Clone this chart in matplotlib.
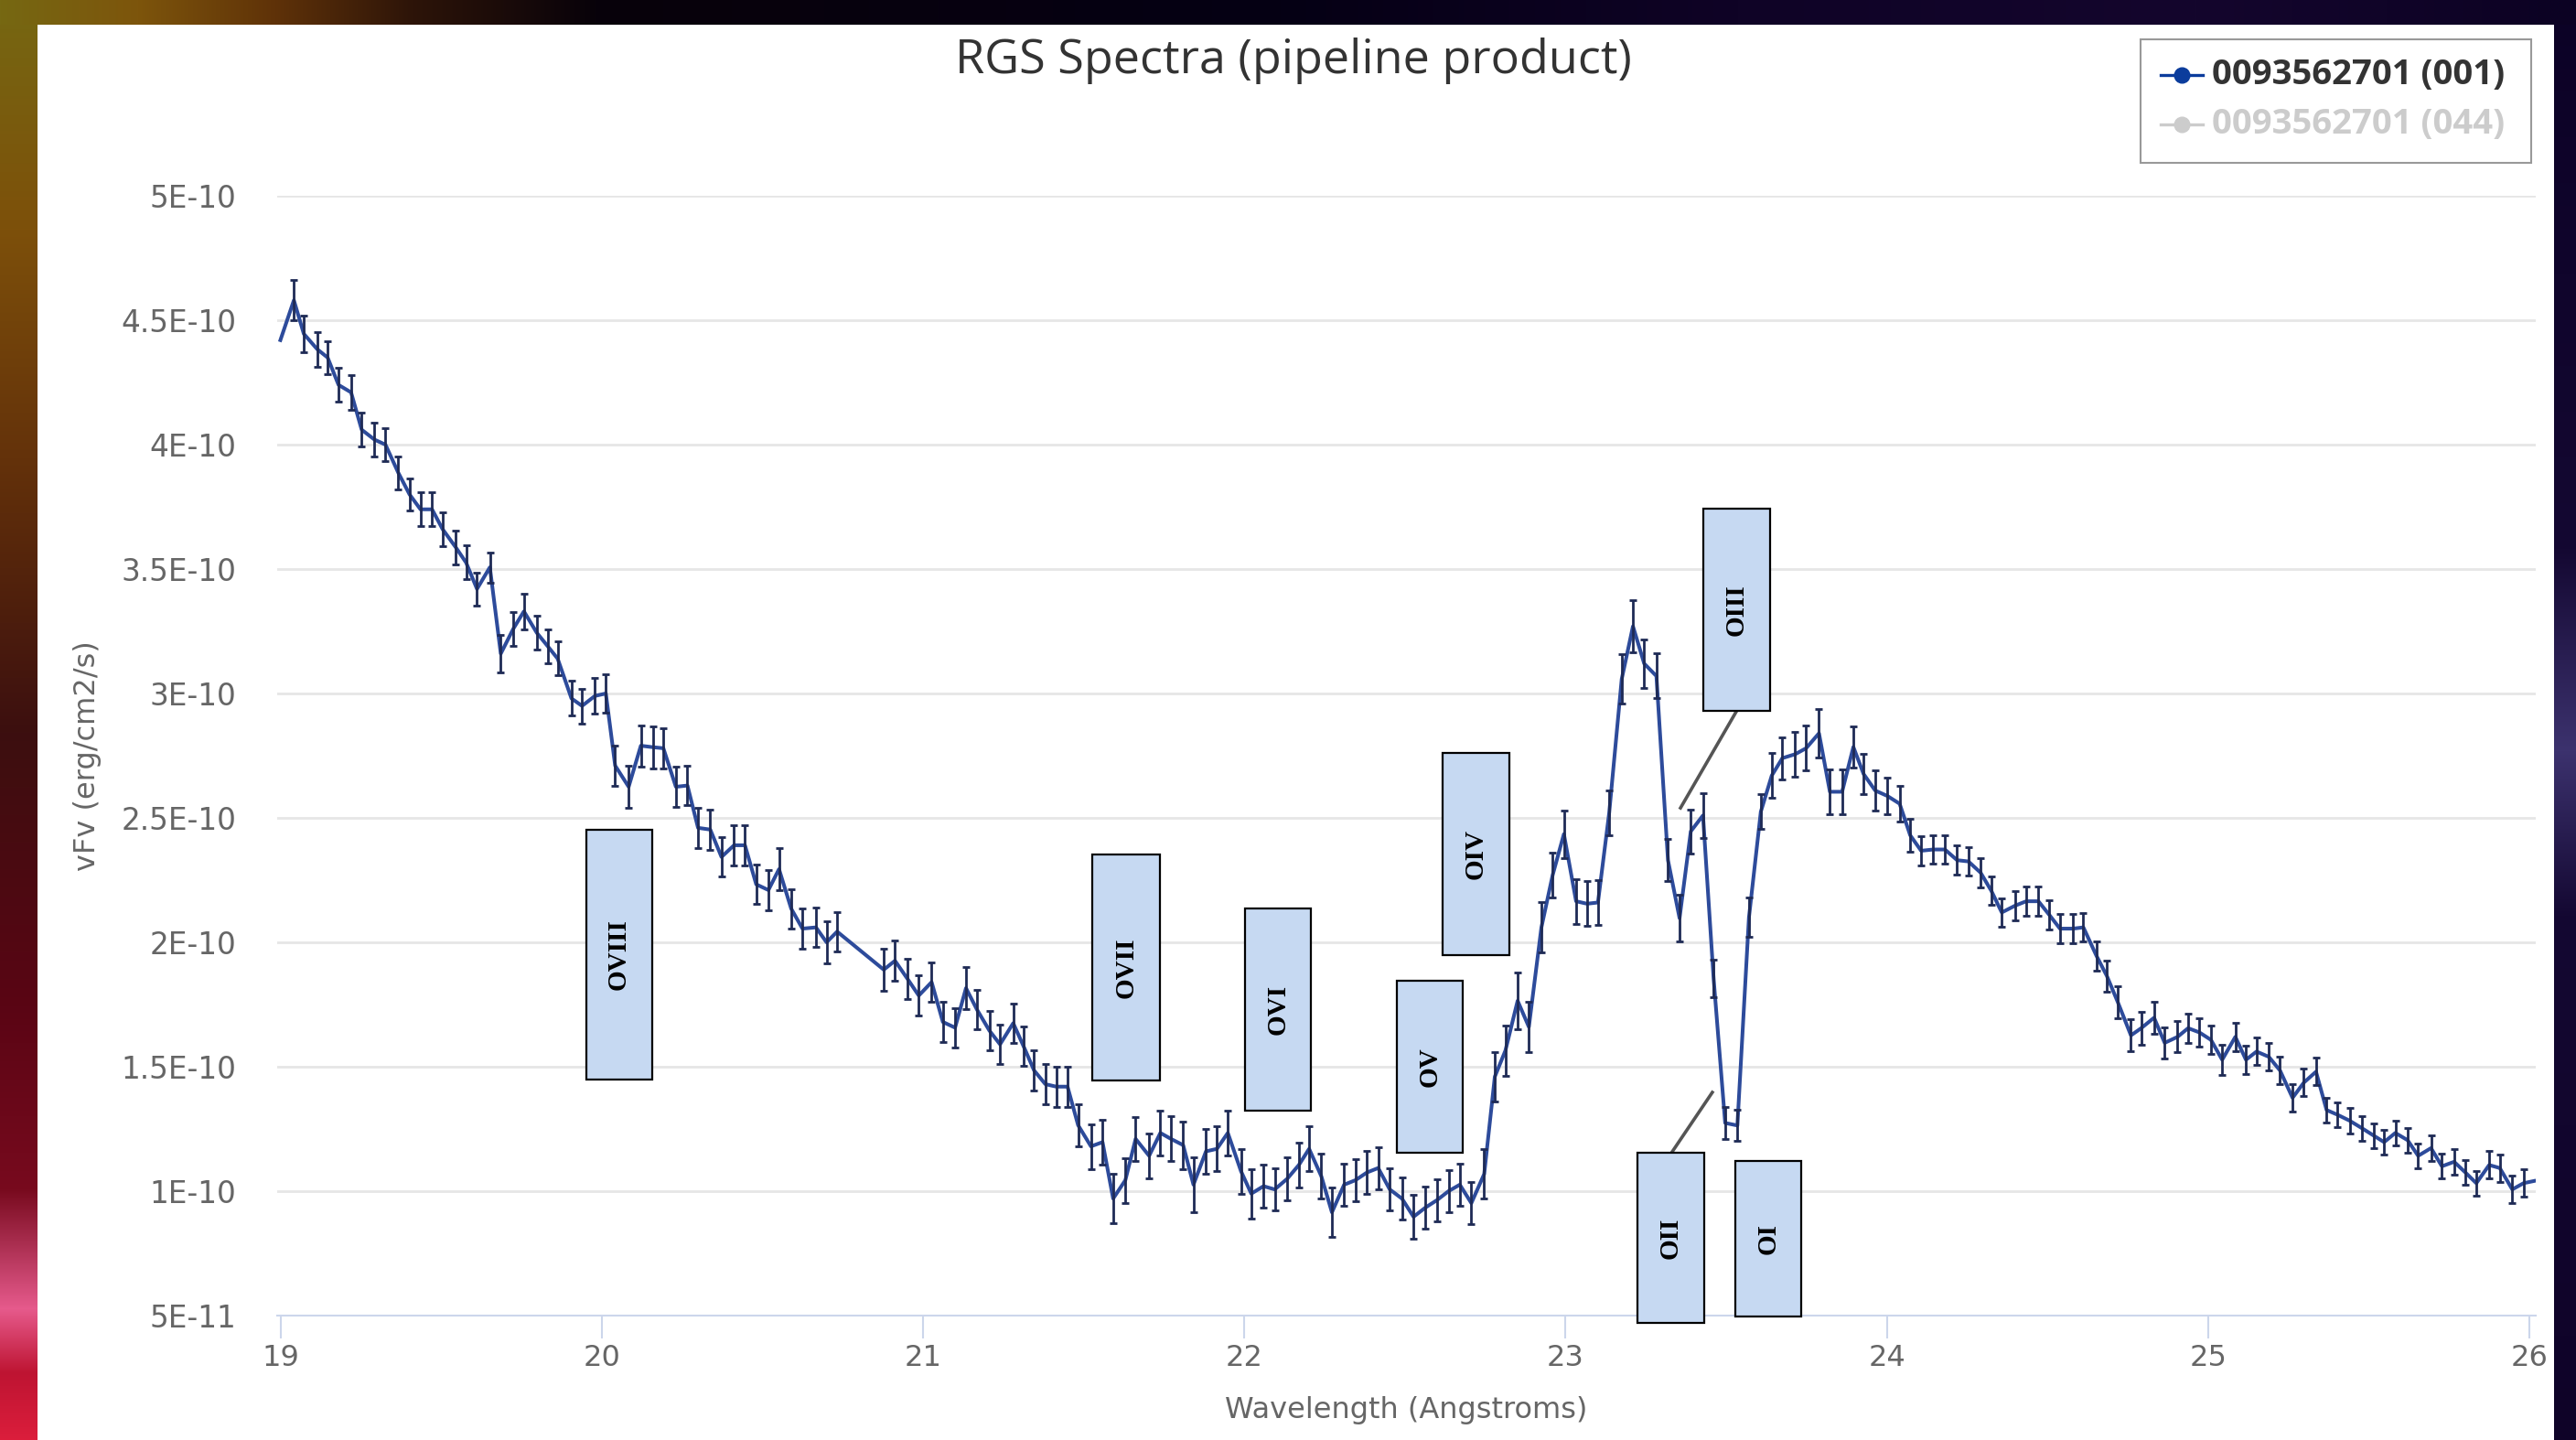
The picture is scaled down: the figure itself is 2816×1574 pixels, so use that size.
import numpy as np
import matplotlib
matplotlib.use("Agg")
import matplotlib.pyplot as plt
from matplotlib.patches import Rectangle

# RGS spectrum of obsid 0093562701 (001): wavelength (Angstrom), vFv and 1-sigma errors (units of 1e-10 erg/cm2/s)
wavelength = [
    19.000, 19.042, 19.073, 19.115, 19.147, 19.181, 19.220, 19.253, 19.293, 19.327,
    19.367, 19.402, 19.436, 19.472, 19.505, 19.546, 19.578, 19.612, 19.652, 19.686,
    19.725, 19.758, 19.798, 19.832, 19.863, 19.906, 19.939, 19.979, 20.013, 20.042,
    20.084, 20.122, 20.160, 20.192, 20.231, 20.267, 20.300, 20.338, 20.373, 20.412,
    20.446, 20.481, 20.519, 20.552, 20.590, 20.625, 20.667, 20.700, 20.733, 20.878,
    20.913, 20.952, 20.987, 21.027, 21.062, 21.100, 21.134, 21.168, 21.207, 21.240,
    21.281, 21.313, 21.346, 21.381, 21.415, 21.450, 21.483, 21.523, 21.559, 21.592,
    21.630, 21.662, 21.704, 21.739, 21.772, 21.810, 21.842, 21.881, 21.915, 21.949,
    21.990, 22.022, 22.060, 22.095, 22.134, 22.170, 22.202, 22.240, 22.273, 22.311,
    22.346, 22.382, 22.417, 22.453, 22.491, 22.527, 22.564, 22.600, 22.636, 22.671,
    22.707, 22.747, 22.780, 22.813, 22.851, 22.886, 22.925, 22.960, 22.995, 23.033,
    23.067, 23.101, 23.136, 23.175, 23.210, 23.245, 23.283, 23.319, 23.355, 23.390,
    23.428, 23.461, 23.497, 23.535, 23.571, 23.608, 23.642, 23.675, 23.715, 23.749,
    23.789, 23.823, 23.861, 23.896, 23.928, 23.964, 24.002, 24.040, 24.073, 24.107,
    24.145, 24.181, 24.219, 24.254, 24.292, 24.325, 24.358, 24.399, 24.434, 24.472,
    24.506, 24.539, 24.580, 24.612, 24.653, 24.685, 24.719, 24.760, 24.792, 24.832,
    24.865, 24.905, 24.938, 24.973, 25.009, 25.044, 25.085, 25.118, 25.151, 25.189,
    25.224, 25.263, 25.298, 25.336, 25.369, 25.403, 25.441, 25.479, 25.517, 25.548,
    25.583, 25.621, 25.654, 25.694, 25.728, 25.766, 25.801, 25.835, 25.875, 25.908,
    25.947, 25.982, 26.015,
]
flux = [
    4.420, 4.580, 4.445, 4.383, 4.350, 4.240, 4.210, 4.060, 4.020, 4.000,
    3.887, 3.800, 3.740, 3.740, 3.660, 3.587, 3.526, 3.420, 3.507, 3.160,
    3.260, 3.330, 3.244, 3.190, 3.140, 2.980, 2.950, 2.990, 3.000, 2.710,
    2.625, 2.790, 2.784, 2.780, 2.625, 2.630, 2.460, 2.453, 2.343, 2.390,
    2.390, 2.233, 2.210, 2.294, 2.135, 2.055, 2.060, 2.000, 2.043, 1.890,
    1.926, 1.853, 1.786, 1.840, 1.680, 1.657, 1.816, 1.730, 1.645, 1.590,
    1.675, 1.583, 1.485, 1.430, 1.420, 1.420, 1.265, 1.180, 1.197, 0.970,
    1.044, 1.210, 1.142, 1.234, 1.210, 1.185, 1.026, 1.160, 1.170, 1.234,
    1.080, 0.990, 1.020, 1.007, 1.050, 1.105, 1.170, 1.060, 0.915, 1.026,
    1.044, 1.075, 1.093, 1.007, 0.970, 0.897, 0.934, 0.964, 1.000, 1.026,
    0.952, 1.069, 1.460, 1.565, 1.765, 1.660, 2.060, 2.270, 2.435, 2.165,
    2.155, 2.160, 2.520, 3.058, 3.270, 3.120, 3.070, 2.330, 2.097, 2.446,
    2.510, 1.855, 1.274, 1.264, 2.100, 2.525, 2.670, 2.740, 2.756, 2.780,
    2.840, 2.605, 2.605, 2.785, 2.676, 2.610, 2.588, 2.557, 2.430, 2.368,
    2.373, 2.373, 2.330, 2.325, 2.280, 2.208, 2.120, 2.147, 2.165, 2.165,
    2.110, 2.055, 2.055, 2.060, 1.945, 1.865, 1.760, 1.626, 1.655, 1.697,
    1.596, 1.620, 1.655, 1.638, 1.608, 1.528, 1.620, 1.528, 1.561, 1.540,
    1.485, 1.375, 1.436, 1.480, 1.326, 1.307, 1.283, 1.253, 1.222, 1.197,
    1.234, 1.205, 1.142, 1.173, 1.100, 1.118, 1.075, 1.032, 1.105, 1.093,
    1.007, 1.032, 1.041,
]
flux_err = [
    0.000, 0.080, 0.075, 0.070, 0.067, 0.067, 0.069, 0.067, 0.067, 0.067,
    0.067, 0.065, 0.068, 0.068, 0.068, 0.068, 0.068, 0.067, 0.061, 0.074,
    0.068, 0.072, 0.068, 0.068, 0.068, 0.070, 0.070, 0.072, 0.078, 0.080,
    0.083, 0.083, 0.084, 0.080, 0.080, 0.080, 0.080, 0.080, 0.080, 0.080,
    0.080, 0.080, 0.080, 0.085, 0.080, 0.080, 0.080, 0.085, 0.080, 0.086,
    0.080, 0.080, 0.080, 0.080, 0.080, 0.080, 0.085, 0.080, 0.080, 0.080,
    0.080, 0.080, 0.080, 0.080, 0.080, 0.080, 0.085, 0.090, 0.090, 0.100,
    0.090, 0.089, 0.090, 0.090, 0.090, 0.095, 0.110, 0.090, 0.090, 0.090,
    0.090, 0.100, 0.085, 0.085, 0.085, 0.090, 0.090, 0.090, 0.100, 0.085,
    0.085, 0.085, 0.085, 0.085, 0.085, 0.090, 0.085, 0.085, 0.085, 0.085,
    0.085, 0.100, 0.100, 0.100, 0.113, 0.100, 0.100, 0.090, 0.095, 0.090,
    0.090, 0.090, 0.090, 0.100, 0.105, 0.098, 0.090, 0.084, 0.095, 0.088,
    0.090, 0.074, 0.063, 0.063, 0.079, 0.069, 0.090, 0.085, 0.090, 0.090,
    0.098, 0.089, 0.090, 0.083, 0.080, 0.080, 0.075, 0.070, 0.065, 0.060,
    0.058, 0.058, 0.058, 0.058, 0.058, 0.058, 0.058, 0.058, 0.058, 0.058,
    0.058, 0.058, 0.058, 0.058, 0.060, 0.062, 0.064, 0.064, 0.067, 0.065,
    0.062, 0.062, 0.060, 0.058, 0.058, 0.060, 0.058, 0.058, 0.055, 0.055,
    0.055, 0.055, 0.055, 0.055, 0.050, 0.050, 0.050, 0.050, 0.050, 0.050,
    0.050, 0.050, 0.050, 0.050, 0.050, 0.050, 0.050, 0.050, 0.055, 0.055,
    0.055, 0.055, 0.000,
]

# oxygen ion labels and their boxes (wavelength span, flux span in 1e-10)
ion_labels = ["OVIII", "OVII", "OVI", "OV", "OIV", "OIII", "OII", "OI"]
box_left = [19.951, 21.528, 22.002, 22.475, 22.617, 23.429, 23.224, 23.529]
box_right = [20.156, 21.737, 22.207, 22.680, 22.825, 23.637, 23.432, 23.734]
box_top = [2.452, 2.353, 2.136, 1.846, 2.761, 3.743, 1.154, 1.121]
box_bottom = [1.449, 1.445, 1.324, 1.154, 1.949, 2.930, 0.471, 0.496]

# leader lines from the OIII and OII boxes to their features
leader_wl = [[23.531, 23.358], [23.332, 23.457]]
leader_flux = [[2.926, 2.540], [1.158, 1.397]]

y_ticks = [0.5, 1.0, 1.5, 2.0, 2.5, 3.0, 3.5, 4.0, 4.5, 5.0]
y_tick_labels = ["5E-11", "1E-10", "1.5E-10", "2E-10", "2.5E-10", "3E-10",
                 "3.5E-10", "4E-10", "4.5E-10", "5E-10"]
x_ticks = [19, 20, 21, 22, 23, 24, 25, 26]

series_names = ["0093562701 (001)", "0093562701 (044)"]

SCALE = 1e-10
wl = np.array(wavelength)
fx = np.array(flux) * SCALE
ex = np.array(flux_err) * SCALE

W, H = 2816, 1574
fig = plt.figure(figsize=(W / 100, H / 100), dpi=100)

# page backdrop: coloured frame around a white chart panel
bg_ax = fig.add_axes([0, 0, 1, 1], zorder=-5)
bg_ax.set_xlim(0, W)
bg_ax.set_ylim(H, 0)
bg_ax.axis("off")

top_x = [0, 150, 300, 450, 650, 1400, 1900, 2400, 2816]
top_c = np.array([(118, 104, 18), (125, 85, 12), (95, 50, 8), (45, 20, 8), (8, 2, 10),
                  (5, 0, 20), (15, 3, 38), (20, 6, 45), (12, 2, 35)], float)
left_y = [0, 250, 500, 800, 1100, 1300, 1430, 1500, 1574]
left_c = np.array([(118, 104, 18), (125, 80, 10), (100, 50, 10), (60, 15, 15), (90, 5, 20),
                   (120, 10, 30), (230, 90, 140), (190, 20, 50), (220, 30, 60)], float)
right_y = [0, 600, 820, 1000, 1574]
right_c = np.array([(12, 2, 38), (20, 8, 50), (60, 50, 110), (20, 8, 50), (15, 3, 40)], float)

xs = np.arange(W)
ys = np.arange(H)
top_row = np.stack([np.interp(xs, top_x, top_c[:, k]) for k in range(3)], -1)
left_col = np.stack([np.interp(ys, left_y, left_c[:, k]) for k in range(3)], -1)
right_col = np.stack([np.interp(ys, right_y, right_c[:, k]) for k in range(3)], -1)
bg = np.empty((H, W, 3), dtype=np.uint8)
bg[:] = right_col[:, None, :].astype(np.uint8)
bg[:, :41] = left_col[:, None, :].astype(np.uint8)
bg[:27, :] = top_row[None, :, :].astype(np.uint8)
bg_ax.imshow(bg, extent=(0, W, H, 0), aspect="auto", interpolation="bilinear")
bg_ax.add_patch(Rectangle((41, 27), 2751, H - 27, facecolor="white", edgecolor="none"))

# title
bg_ax.text(1414, 66, "RGS Spectra (pipeline product)", ha="center", va="center",
           fontsize=37.5, color="#333333", family="Open Sans")

# legend
bg_ax.add_patch(Rectangle((2340, 43), 427, 135, fill=False, edgecolor="#999999", lw=1.5))
for name, yy, col, tcol in [(series_names[0], 82, "#0b3c9c", "#333333"),
                             (series_names[1], 136, "#cccccc", "#cccccc")]:
    bg_ax.plot([2362, 2408], [yy, yy], color=col, lw=2.4)
    bg_ax.plot([2385], [yy], marker="o", ms=12, color=col)
    bg_ax.text(2418, yy, name, ha="left", va="center", fontsize=27.5,
               fontweight="bold", color=tcol, family="Open Sans")

# main chart
ax = fig.add_axes([303 / W, 1 - 1438 / H, (2772 - 303) / W, (1438 - 214) / H])
ax.patch.set_alpha(0)
ax.set_xlim(18.99, 26.02)
ax.set_ylim(0.5 * SCALE, 5.0 * SCALE)

ax.set_yticks(np.array(y_ticks) * SCALE)
ax.set_yticklabels(y_tick_labels)
ax.set_xticks(x_ticks)
ax.set_xticklabels([str(t) for t in x_ticks])
ax.grid(axis="y", color="#e6e6e6", lw=2)
ax.set_axisbelow(True)
for side in ["top", "right", "left"]:
    ax.spines[side].set_visible(False)
ax.spines["bottom"].set_color("#ccd6eb")
ax.spines["bottom"].set_linewidth(1.5)
ax.tick_params(axis="y", length=0, pad=32, labelsize=23.5, labelcolor="#666666")
ax.tick_params(axis="x", length=18, width=1.5, color="#ccd6eb", pad=4,
               labelsize=23, labelcolor="#666666")

ax.set_xlabel("Wavelength (Angstroms)", fontsize=23, color="#666666", va="center")
ax.xaxis.set_label_coords(0.5, -0.0842)
ax.set_ylabel("vFv (erg/cm2/s)", fontsize=23, color="#666666", va="center")
ax.yaxis.set_label_coords(-0.0842, 0.5)

# spectrum and error bars
ax.plot(wl, fx, color="#2d4b9b", lw=2.9, zorder=3)
has_err = ex > 0
ax.errorbar(wl[has_err], fx[has_err], yerr=ex[has_err], fmt="none", ecolor="#1e2a55",
            elinewidth=2.0, capsize=2.8, capthick=2.0, zorder=4)

# ion boxes
for lab, x0, x1, y1, y0 in zip(ion_labels, box_left, box_right, box_top, box_bottom):
    ax.add_patch(Rectangle((x0, y0 * SCALE), x1 - x0, (y1 - y0) * SCALE,
                           facecolor="#c6d9f2", edgecolor="black", lw=1.6,
                           zorder=6, clip_on=False))
    ax.text((x0 + x1) / 2, (y0 + y1) / 2 * SCALE, lab, rotation=90, ha="center",
            va="center", fontsize=21, fontweight="bold", family="Liberation Serif",
            color="black", zorder=7, clip_on=False)

for lw_, lf in zip(leader_wl, leader_flux):
    ax.plot(lw_, np.array(lf) * SCALE, color="#555555", lw=2.6, zorder=5)

fig.savefig("out.png", dpi=100)
